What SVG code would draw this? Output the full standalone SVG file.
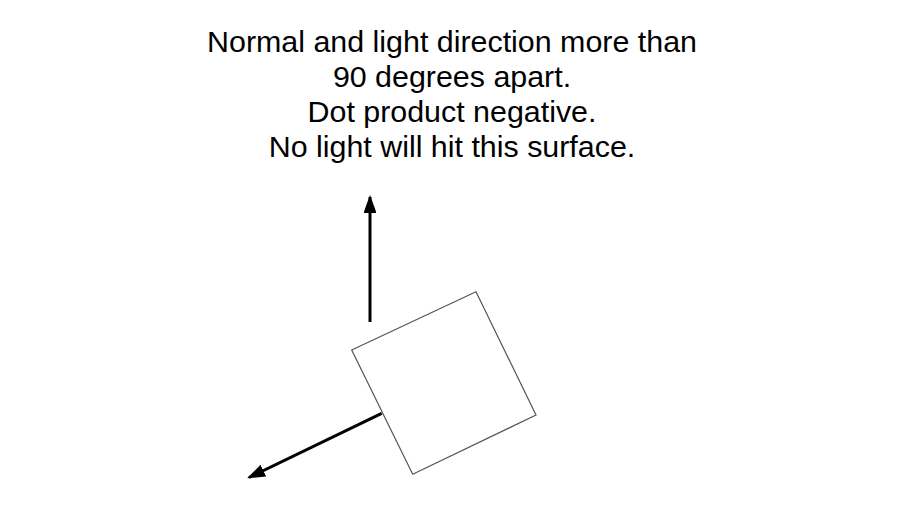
<svg xmlns="http://www.w3.org/2000/svg" width="908" height="506" viewBox="0 0 908 506">
<style>
text{font-family:"Liberation Sans",Arial,sans-serif;font-size:30.4px;fill:#000;text-anchor:middle}
.arrow{stroke:#000;stroke-width:3;fill:none}
</style>
<defs>
<marker id="ah" viewBox="0 0 18 13" refX="16" refY="6.5" markerWidth="6" markerHeight="4.33" orient="auto" markerUnits="strokeWidth">
<path d="M0,0 L18,6.5 L0,13 z" fill="#000"/>
</marker>
</defs>
<rect width="908" height="506" fill="#fff"/>
<g id="caption">
<text x="452" y="51.5">Normal and light direction more than</text>
<text x="452" y="86.5">90 degrees apart.</text>
<text x="452" y="121.5">Dot product negative.</text>
<text x="452" y="156.5">No light will hit this surface.</text>
</g>
<g id="surface">
<polygon points="351.7,350 476,291.7 536,415 412.7,474.3" fill="#fff" stroke="#555" stroke-width="1.2"/>
</g>
<g id="connectors">
<line class="arrow" x1="370" y1="322" x2="370" y2="197" marker-end="url(#ah)"/>
<line class="arrow" x1="381.7" y1="413.3" x2="249" y2="477.5" marker-end="url(#ah)"/>
</g>
</svg>
